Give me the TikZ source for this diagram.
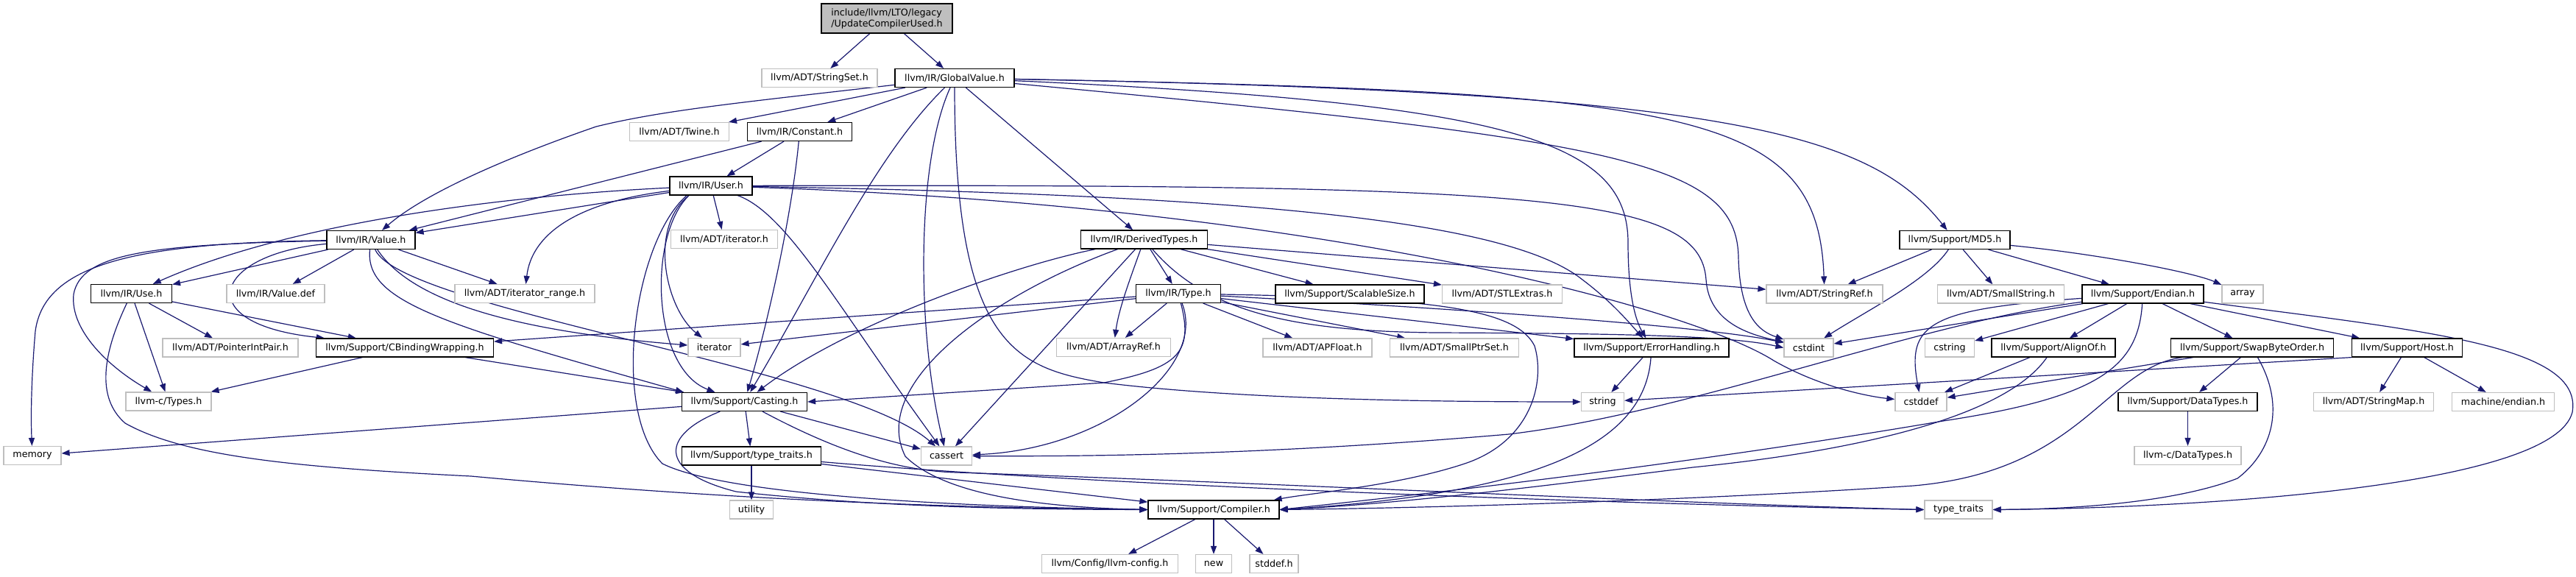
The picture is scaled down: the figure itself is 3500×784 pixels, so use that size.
\documentclass[tikz,border=0pt]{standalone}
\usepackage{fontspec}
\setmainfont{DejaVu Sans}
\usetikzlibrary{arrows.meta,backgrounds}
\definecolor{edgeblue}{HTML}{191970}
\definecolor{grey75}{HTML}{BFBFBF}
\tikzset{
  nbox/.style={rectangle, fill=white, inner xsep=2pt, inner ysep=0pt, minimum height=25pt, line width=1.2pt, font=\fontsize{12.7}{15}\selectfont},
  docbox/.style={nbox, draw=black},
  extbox/.style={nbox, draw=grey75},
  dep/.style={draw=edgeblue, line width=1.2pt, -{Triangle[length=11pt,width=8pt]}},
}
\begin{document}
\begin{tikzpicture}[x=1pt,y=-1pt]
\useasboundingbox (0,0) rectangle (3500,784);
% nodes
\node[docbox, fill=grey75, minimum width=178pt, minimum height=40pt, align=left] (ucu) at (1205,25) {include/llvm/LTO/legacy\\/UpdateCompilerUsed.h};
\node[extbox, minimum width=157pt] (stringset) at (1113.5,106) {llvm/ADT/StringSet.h};
\node[docbox, minimum width=162pt] (gv) at (1297,106) {llvm/IR/GlobalValue.h};
\node[extbox, minimum width=135pt] (twine) at (923,179) {llvm/ADT/Twine.h};
\node[docbox, minimum width=142pt] (constant) at (1086.5,179) {llvm/IR/Constant.h};
\node[docbox, minimum width=112pt] (user) at (966,252.5) {llvm/IR/User.h};
\node[docbox, minimum width=120pt] (value) at (504,326) {llvm/IR/Value.h};
\node[extbox, minimum width=145pt] (iteratorh) at (984,325) {llvm/ADT/iterator.h};
\node[docbox, minimum width=172pt] (derived) at (1554.5,325.5) {llvm/IR/DerivedTypes.h};
\node[docbox, minimum width=150pt] (md5) at (2656,326) {llvm/Support/MD5.h};
\node[docbox, minimum width=110pt] (use) at (178.5,399) {llvm/IR/Use.h};
\node[extbox, minimum width=133pt] (valuedef) at (374.5,399) {llvm/IR/Value.def};
\node[extbox, minimum width=190pt] (itrange) at (713,399) {llvm/ADT/iterator\_range.h};
\node[docbox, minimum width=115pt] (type) at (1601,399) {llvm/IR/Type.h};
\node[docbox, minimum width=202pt] (scalable) at (1834,399.5) {llvm/Support/ScalableSize.h};
\node[extbox, minimum width=163pt] (stlextras) at (2041,399.5) {llvm/ADT/STLExtras.h};
\node[extbox, minimum width=158pt] (stringref) at (2479,399.5) {llvm/ADT/StringRef.h};
\node[extbox, minimum width=172pt] (smallstring) at (2718.5,399.5) {llvm/ADT/SmallString.h};
\node[docbox, minimum width=165pt] (endian) at (2911.5,399.5) {llvm/Support/Endian.h};
\node[extbox, minimum width=56pt] (array) at (3047,399.5) {array};
\node[extbox, minimum width=184pt] (pip) at (313,472.5) {llvm/ADT/PointerIntPair.h};
\node[docbox, minimum width=241pt] (cbw) at (550,472.5) {llvm/Support/CBindingWrapping.h};
\node[extbox, minimum width=71pt] (iterator) at (970.5,472) {iterator};
\node[extbox, minimum width=155pt] (arrayref) at (1513,472) {llvm/ADT/ArrayRef.h};
\node[extbox, minimum width=148pt] (apfloat) at (1790,472.5) {llvm/ADT/APFloat.h};
\node[extbox, minimum width=175pt] (smallptrset) at (1976,472.5) {llvm/ADT/SmallPtrSet.h};
\node[docbox, minimum width=210pt] (errh) at (2244,472.5) {llvm/Support/ErrorHandling.h};
\node[extbox, minimum width=67pt] (cstdint) at (2457.5,472.5) {cstdint};
\node[extbox, minimum width=67pt] (cstring) at (2649,472.5) {cstring};
\node[docbox, minimum width=168pt] (alignof) at (2790,472.5) {llvm/Support/AlignOf.h};
\node[docbox, minimum width=221pt] (swap) at (3060,472.5) {llvm/Support/SwapByteOrder.h};
\node[docbox, minimum width=150pt] (host) at (3270.5,472.5) {llvm/Support/Host.h};
\node[extbox, minimum width=116pt] (ctypes) at (229,545.5) {llvm-c/Types.h};
\node[docbox, minimum width=170pt] (casting) at (1011.5,546) {llvm/Support/Casting.h};
\node[extbox, minimum width=58pt] (string) at (2177.5,546) {string};
\node[extbox, minimum width=70pt] (cstddef) at (2610,546) {cstddef};
\node[docbox, minimum width=189pt] (datatypes) at (2972.5,546) {llvm/Support/DataTypes.h};
\node[extbox, minimum width=163pt] (stringmap) at (3225,546) {llvm/ADT/StringMap.h};
\node[extbox, minimum width=139pt] (mendian) at (3401,546) {machine/endian.h};
\node[extbox, minimum width=78pt] (memory) at (44,619) {memory};
\node[docbox, minimum width=189pt] (typetraits) at (1021,619.5) {llvm/Support/type\_traits.h};
\node[extbox, minimum width=69pt] (cassert) at (1286,619.5) {cassert};
\node[extbox, minimum width=145pt] (cdatatypes) at (2972.5,619) {llvm-c/DataTypes.h};
\node[extbox, minimum width=59pt] (utility) at (1021,692.5) {utility};
\node[docbox, minimum width=178pt] (compiler) at (1649,692.5) {llvm/Support/Compiler.h};
\node[extbox, minimum width=92pt] (stdtt) at (2661,692.5) {type\_traits};
\node[extbox, minimum width=185pt] (llvmconfig) at (1508,766) {llvm/Config/llvm-config.h};
\node[extbox, minimum width=49pt] (new) at (1649,766) {new};
\node[extbox, minimum width=66pt] (stddefh) at (1731,766) {stddef.h};
% edges
\begin{pgfonlayer}{background}
\draw[dep] (ucu) -- (stringset);
\draw[dep] (ucu) -- (gv);
% GlobalValue.h
\draw[dep] (gv) .. controls (1000,140) and (900,150) .. (810,172) .. controls (700,210) and (580,260) .. (value);
\draw[dep] (gv) -- (twine);
\draw[dep] (gv) -- (constant);
\draw[dep] (gv) .. controls (1190,210) and (1110,380) .. (casting);
\draw[dep] (gv) .. controls (1245,220) and (1245,450) .. (cassert);
\draw[dep] (gv) .. controls (1297,470) and (1380,500) .. (1500,520) .. controls (1700,545) and (2000,546) .. (string);
\draw[dep] (gv) -- (derived);
\draw[dep] (gv) .. controls (2050,140) and (2212,190) .. (2212,330) .. controls (2212,410) and (2225,440) .. (errh);
\draw[dep] (gv) .. controls (2300,125) and (2470,150) .. (stringref);
\draw[dep] (gv) .. controls (2200,190) and (2360,220) .. (2362,350) .. controls (2364,430) and (2390,450) .. (cstdint);
\draw[dep] (gv) .. controls (2350,125) and (2540,180) .. (md5);
% Constant.h
\draw[dep] (constant) -- (value);
\draw[dep] (constant) -- (user);
\draw[dep] (constant) .. controls (1075,300) and (1040,450) .. (casting);
% User.h
\draw[dep] (user) -- (iteratorh);
\draw[dep] (user) .. controls (780,275) and (722,320) .. (itrange);
\draw[dep] (user) .. controls (700,265) and (400,300) .. (use);
\draw[dep] (user) -- (value);
\draw[dep] ([xshift=-30pt]user.south) .. controls (880,320) and (885,500) .. ([xshift=-40pt]casting.north);
\draw[dep] ([xshift=-30pt]user.south) .. controls (880,310) and (905,420) .. (iterator);
\draw[dep] ([xshift=-33pt]user.south) .. controls (860,330) and (830,560) .. (900,630) .. controls (1000,680) and (1400,690) .. (compiler.west);
\draw[dep] (user) .. controls (1700,265) and (2050,300) .. (2150,380) .. controls (2190,410) and (2215,440) .. (errh);
\draw[dep] (user) .. controls (1070,290) and (1140,420) .. (cassert);
\draw[dep] (user) .. controls (1800,280) and (2300,420) .. (2410,490) .. controls (2480,530) and (2550,540) .. (cstddef);
\draw[dep] (user) .. controls (2100,250) and (2310,265) .. (2318,380) .. controls (2322,440) and (2380,455) .. (cstdint);
% Value.h
\draw[dep] (value) .. controls (200,332) and (110,345) .. (100,400) .. controls (95,450) and (150,500) .. (ctypes);
\draw[dep] (value) .. controls (180,330) and (60,360) .. (48,450) .. controls (42,520) and (42,570) .. (memory);
\draw[dep] (value) .. controls (290,345) and (255,440) .. ([xshift=12pt]cbw.north west);
\draw[dep] (value) -- (use);
\draw[dep] (value) -- (valuedef);
\draw[dep] (value) .. controls (495,410) and (600,440) .. ([xshift=3pt]casting.north west);
\draw[dep] (value) .. controls (545,420) and (1150,500) .. (cassert);
\draw[dep] (value) .. controls (560,410) and (700,450) .. (iterator);
\draw[dep] (value) -- (itrange);
% DerivedTypes.h
\draw[dep] (derived) .. controls (1380,360) and (1150,440) .. (casting);
\draw[dep] (derived) -- (cassert);
\draw[dep] (derived) .. controls (1350,400) and (1180,520) .. (1230,620) .. controls (1290,680) and (1450,690) .. (compiler.west);
\draw[dep] (derived) .. controls (1535,380) and (1520,420) .. (arrayref);
\draw[dep] (derived) -- (type);
\draw[dep] (derived) .. controls (1640,425) and (1760,450) .. (1950,452) .. controls (2200,453) and (2350,456) .. (cstdint.west);
\draw[dep] (derived) -- (scalable);
\draw[dep] (derived) -- (stlextras);
\draw[dep] (derived) -- (stringref);
% MD5.h
\draw[dep] (md5) -- (stringref);
\draw[dep] (md5) .. controls (2620,380) and (2540,420) .. (cstdint);
\draw[dep] (md5) -- (smallstring);
\draw[dep] (md5) -- (endian);
\draw[dep] (md5) .. controls (2850,345) and (2980,370) .. (array);
% Use.h
\draw[dep] (use) .. controls (140,480) and (130,540) .. (170,575) .. controls (250,620) and (400,635) .. (640,647) .. controls (1000,680) and (1300,690) .. (compiler.west);
\draw[dep] (use) -- (ctypes);
\draw[dep] (use) -- (pip);
\draw[dep] (use) -- (cbw);
% Type.h
\draw[dep] (type) -- (apfloat);
\draw[dep] (type) -- (arrayref);
\draw[dep] (type) -- (smallptrset);
\draw[dep] (type) -- (cbw);
\draw[dep] (type) .. controls (1622,480) and (1600,500) .. (1500,520) -- (casting.east);
\draw[dep] (type) .. controls (1950,405) and (2060,420) .. (2085,470) .. controls (2100,520) and (2080,600) .. (1990,630) .. controls (1900,660) and (1780,670) .. ([xshift=-8pt]compiler.north east);
\draw[dep] (type) -- (errh);
\draw[dep] (type) .. controls (1640,500) and (1500,610) .. (cassert);
\draw[dep] (type) .. controls (1900,415) and (2300,440) .. (cstdint);
\draw[dep] (type) -- (iterator);
% Endian.h
\draw[dep] (endian) -- (cstdint);
\draw[dep] (endian) .. controls (2620,420) and (2590,440) .. (cstddef);
\draw[dep] (endian) .. controls (2600,440) and (2300,560) .. (2050,590) .. controls (1700,620) and (1450,620) .. (cassert);
\draw[dep] (endian) -- (cstring);
\draw[dep] (endian) -- (alignof);
\draw[dep] (endian) .. controls (2905,500) and (2850,540) .. (2640,572) .. controls (2300,630) and (1950,670) .. (compiler.east);
\draw[dep] (endian) -- (swap);
\draw[dep] (endian) -- (host);
\draw[dep] (endian) .. controls (3300,450) and (3510,470) .. (3495,560) .. controls (3470,660) and (3000,690) .. (stdtt.east);
% CBindingWrapping.h
\draw[dep] (cbw) -- (ctypes);
\draw[dep] (cbw) -- (casting);
% ErrorHandling.h
\draw[dep] (errh) -- (string);
\draw[dep] (errh) .. controls (2235,600) and (2100,670) .. (compiler.east);
% AlignOf.h
\draw[dep] (alignof) -- (cstddef);
\draw[dep] (alignof) .. controls (2730,560) and (2550,610) .. (2300,635) .. controls (2100,660) and (1900,685) .. (compiler.east);
% SwapByteOrder.h
\draw[dep] (swap) .. controls (2860,500) and (2830,640) .. (2600,660) .. controls (2300,680) and (1950,690) .. (compiler.east);
\draw[dep] (swap) -- (datatypes);
\draw[dep] (swap) -- (cstddef);
\draw[dep] (swap) .. controls (3110,560) and (3080,620) .. (3040,650) .. controls (2950,685) and (2800,692) .. (stdtt.east);
% Host.h
\draw[dep] (host) -- (stringmap);
\draw[dep] (host) -- (mendian);
\draw[dep] (host.south west) -- (string);
% DataTypes.h
\draw[dep] (datatypes) -- (cdatatypes);
% Casting.h
\draw[dep] (casting) -- (typetraits);
\draw[dep] (casting) .. controls (900,590) and (890,640) .. (1000,668) .. controls (1200,690) and (1400,692) .. (compiler.west);
\draw[dep] (casting) -- (cassert);
\draw[dep] (casting) -- (memory);
\draw[dep] (casting) .. controls (1150,620) and (1230,640) .. (1300,642) .. controls (1700,655) and (2300,685) .. (stdtt.west);
% type_traits.h
\draw[dep] (typetraits) -- (utility);
\draw[dep] (typetraits) -- (compiler);
\draw[dep] (typetraits) .. controls (1500,660) and (2200,685) .. (stdtt.west);
% Compiler.h
\draw[dep] (compiler) -- (llvmconfig);
\draw[dep] (compiler) -- (new);
\draw[dep] (compiler) -- (stddefh);
\end{pgfonlayer}
\end{tikzpicture}
\end{document}
